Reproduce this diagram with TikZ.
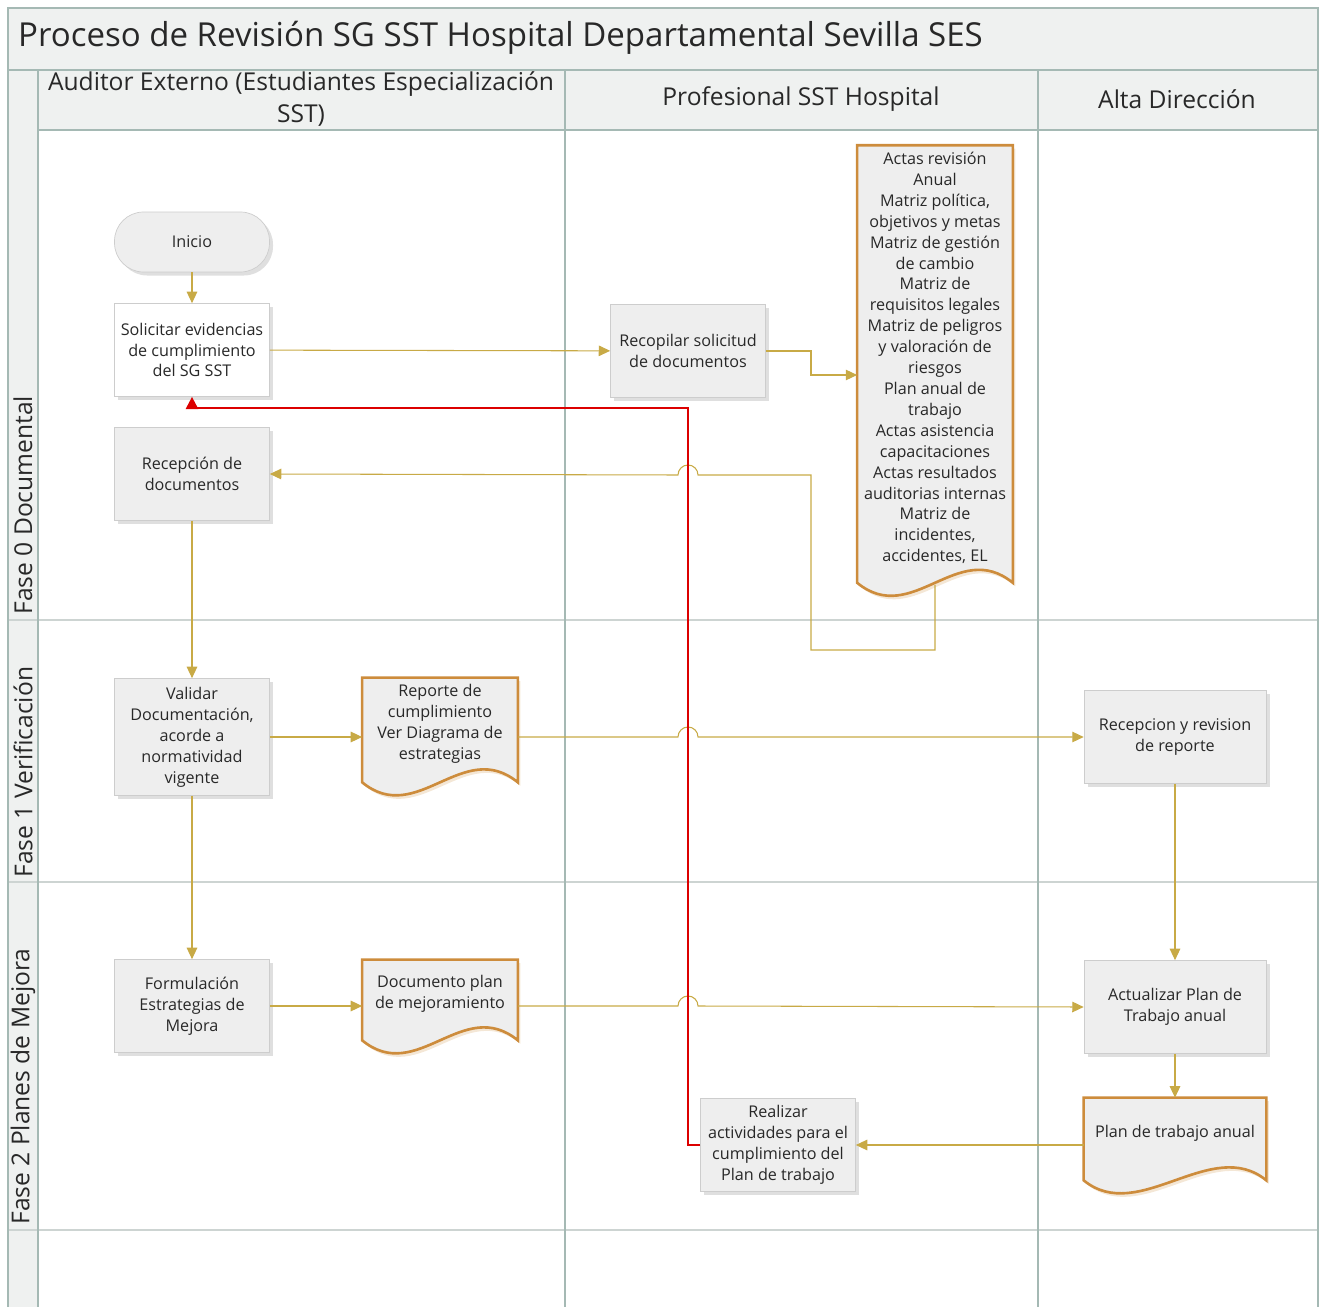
\documentclass[tikz,border=0pt]{standalone}
\usepackage{fontspec}
\setmainfont{Open Sans}
\definecolor{flowgold}{RGB}{200,170,70}
\definecolor{loopred}{RGB}{220,0,0}
\definecolor{docorange}{RGB}{205,140,60}
\definecolor{boxgray}{RGB}{238,238,238}
\definecolor{boxline}{RGB}{205,205,205}
\definecolor{lanegray}{RGB}{239,241,240}
\definecolor{laneline}{RGB}{165,185,180}
\definecolor{rowline}{RGB}{205,212,210}
\definecolor{inkgray}{RGB}{40,40,40}
\usetikzlibrary{arrows.meta, calc, shadows, backgrounds}

\begin{document}
\begin{tikzpicture}[x=0.02cm, y=0.02cm,
  every node/.style={text=inkgray},
  proc/.style={draw=boxline, fill=boxgray, drop shadow={shadow xshift=2pt, shadow yshift=-2pt, opacity=0.25}, minimum width=3.1cm, minimum height=1.86cm, align=center, inner sep=2pt, font=\fontsize{9.2}{11.9}\selectfont},
  term/.style={proc, rounded corners=0.58cm, minimum height=1.2cm},
  docu/.style={minimum width=3.1cm, align=center, inner sep=2pt, font=\fontsize{9.2}{11.9}\selectfont},
  docline/.style={draw=docorange, line width=1.5pt, fill=boxgray, drop shadow={shadow xshift=1.5pt, shadow yshift=-2pt, opacity=0.3, color=docorange!70}},
  flow/.style={draw=flowgold, line width=0.6pt, -{Triangle[length=6.5pt, width=6pt]}},
  redflow/.style={draw=loopred, line width=1.1pt, -{Triangle[length=7pt, width=7pt]}},
  lanehead/.style={align=center, font=\fontsize{14}{18}\selectfont},
  phase/.style={rotate=90, anchor=west, inner sep=0pt, font=\fontsize{14}{16}\selectfont}
]
  \useasboundingbox (0,0) rectangle (1325,-1307);

  % Swimlanes
  \begin{scope}[on background layer]
    \fill[lanegray] (8,-8) rectangle (1318,-130);
    \fill[lanegray] (8,-130) rectangle (38,-1307);
    \draw[rowline, line width=0.8pt] (8,-620) -- (1318,-620) (8,-882) -- (1318,-882) (8,-1230) -- (1318,-1230);
    \draw[laneline, line width=1pt] (8,-1307) -- (8,-8) -- (1318,-8) -- (1318,-1307);
    \draw[laneline, line width=1pt] (8,-70) -- (1318,-70) (38,-130) -- (1318,-130);
    \draw[laneline, line width=1pt] (38,-70) -- (38,-1307) (565,-70) -- (565,-1307) (1038,-70) -- (1038,-1307);
  \end{scope}

  % Titles
  \node[anchor=west, font=\fontsize{18.8}{22}\selectfont] (titulo) at (12,-38) {Proceso de Revisión SG SST Hospital Departamental Sevilla SES};
  \node[lanehead] (hdaud) at (301,-99) {Auditor Externo (Estudiantes Especialización\\SST)};
  \node[lanehead] (hdprof) at (801,-99) {Profesional SST Hospital};
  \node[lanehead] (hdalta) at (1177,-99) {Alta Dirección};
  \node[phase] (fase0) at (23,-615) {Fase 0 Documental};
  \node[phase] (fase1) at (23,-878) {Fase 1 Verificación};
  \node[phase] (fase2) at (23,-1225) {Fase 2 Planes de Mejora};

  % Steps
  \node[term] (inicio) at (192,-242) {Inicio};
  \node[proc, fill=white, drop shadow={opacity=0}] (solicitar) at (192,-350) {Solicitar evidencias\\de cumplimiento\\del SG SST};
  \node[proc] (recepcion) at (192,-474) {Recepción de\\documentos};
  \node[proc] (recopilar) at (688,-351) {Recopilar solicitud\\de documentos};
  \node[proc, minimum height=2.34cm] (validar) at (192,-737) {Validar\\Documentación,\\acorde a\\normatividad\\vigente};
  \node[proc, minimum width=3.64cm] (recrev) at (1175,-737) {Recepcion y revision\\de reporte};
  \node[proc] (formulacion) at (192,-1006) {Formulación\\Estrategias de\\Mejora};
  \node[proc, minimum width=3.64cm] (actualizar) at (1175,-1007) {Actualizar Plan de\\Trabajo anual};
  \node[proc] (realizar) at (778,-1145) {Realizar\\actividades para el\\cumplimiento del\\Plan de trabajo};

  % Documents
  \node[docu, minimum height=8.5cm] (actas) at (935,-358) {Actas revisión\\Anual\\Matriz política,\\objetivos y metas\\Matriz de gestión\\de cambio\\Matriz de\\requisitos legales\\Matriz de peligros\\y valoración de\\riesgos\\Plan anual de\\trabajo\\Actas asistencia\\capacitaciones\\Actas resultados\\auditorias internas\\Matriz de\\incidentes,\\accidentes, EL};
  \node[docu, minimum height=1.84cm] (reporte) at (440,-724) {Reporte de\\cumplimiento\\Ver Diagrama de\\estrategias};
  \node[docu, minimum height=1.36cm] (docplan) at (440,-994) {Documento plan\\de mejoramiento};
  \node[docu, minimum width=3.64cm, minimum height=1.4cm] (plananual) at (1175,-1133) {Plan de trabajo anual};

  \begin{scope}[on background layer]
    \foreach \d in {actas, reporte, docplan, plananual}
      \draw[docline] (\d.north west) -- (\d.north east) -- ($(\d.south east)+(0,-12)$)
        .. controls +(-55,45) and +(55,-45) .. ($(\d.south west)+(0,-12)$) -- cycle;
  \end{scope}

  % Flow
  \draw[flow] (inicio) -- (solicitar);
  \draw[flow] (solicitar) -- (recopilar);
  \coordinate (k1) at (811,-375);
  \draw[flow] (recopilar.east) -| (k1) -- (k1 -| actas.west);
  \coordinate (k2) at (811,-650);
  \draw[flow] ($(actas.south)+(0,-14)$) |- (k2) |- (698,-475) arc[start angle=0, end angle=180, radius=10] -- (recepcion.east);
  \draw[flow] (recepcion) -- (validar);
  \draw[flow] (validar) -- (validar -| reporte.west);
  \draw[flow] (reporte.east |- validar) -- (678,-737) arc[start angle=180, end angle=0, radius=10] -- (recrev.west);
  \draw[flow] (validar) -- (formulacion);
  \draw[flow] (formulacion) -- (formulacion -| docplan.west);
  \draw[flow] (docplan.east |- formulacion) -- (678,-1006) arc[start angle=180, end angle=0, radius=10] -- (actualizar.west);
  \draw[flow] (recrev) -- (actualizar);
  \draw[flow] (actualizar) -- (plananual);
  \draw[flow] (plananual.west |- realizar) -- (realizar);

  % Loop back
  \coordinate (k3) at (688,-408);
  \draw[redflow] (realizar.west) -| (k3) -| (solicitar.south);
\end{tikzpicture}
\end{document}
